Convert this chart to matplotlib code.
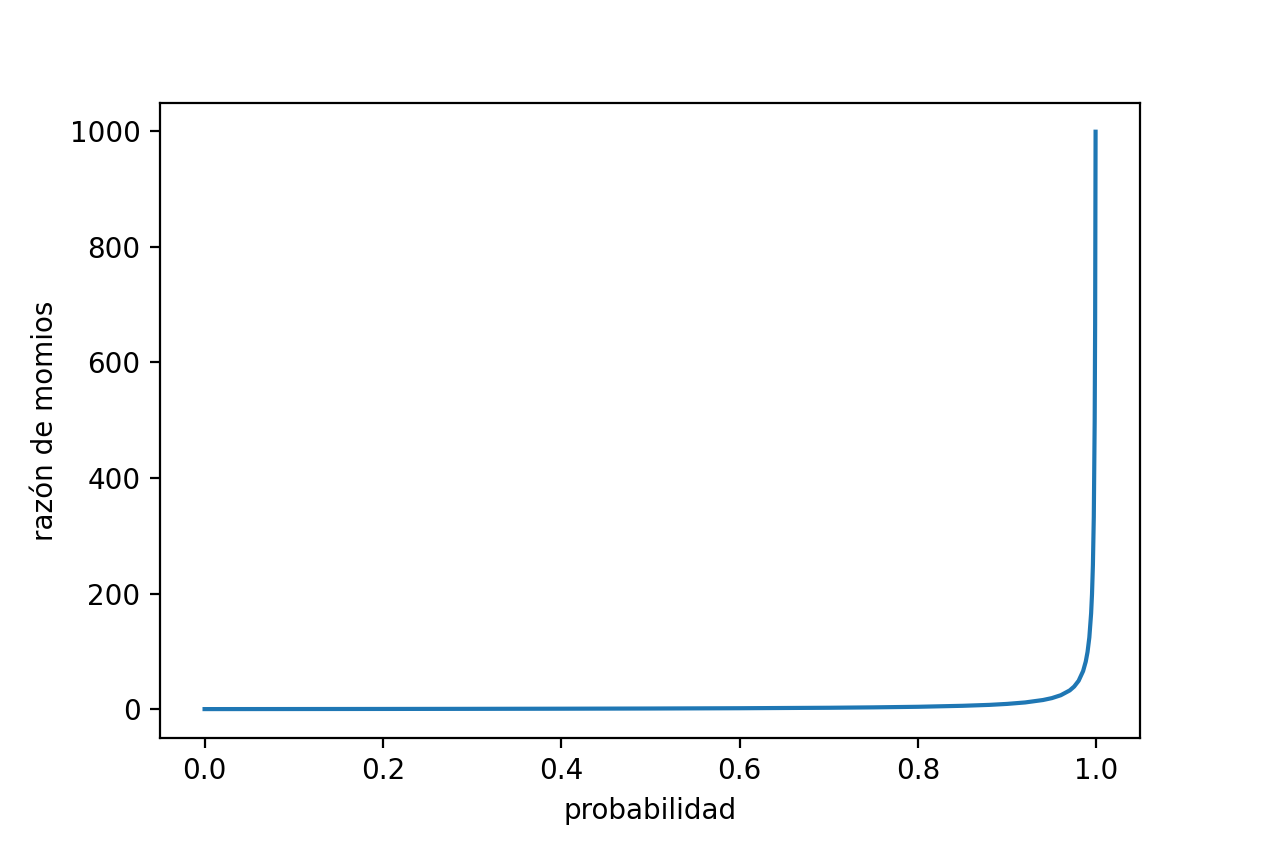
import matplotlib
matplotlib.use('Agg')
import matplotlib.pyplot as plt

# valores
probabilidad = [0.0, 0.1, 0.2, 0.3, 0.4, 0.5, 0.6, 0.7, 0.75, 0.8, 0.85, 0.88,
                0.9, 0.92, 0.94, 0.95, 0.96, 0.97, 0.975, 0.98, 0.985, 0.988,
                0.99, 0.992, 0.994, 0.995, 0.996, 0.997, 0.998, 0.9985, 0.999]
razon = [0.0, 0.11, 0.25, 0.43, 0.67, 1.0, 1.5, 2.3, 3.0, 4.0, 5.7, 7.3,
         9.0, 11.5, 15.7, 19.0, 24.0, 32.3, 39.0, 49.0, 65.7, 82.3,
         99.0, 124.0, 165.7, 199.0, 249.0, 332.3, 499.0, 665.7, 999.0]

plt.figure(figsize=(6.32, 4.215), dpi=200)
plt.plot(probabilidad, razon, color='#1f77b4', linewidth=1.5)
plt.xlabel('probabilidad')
plt.ylabel('razón de momios')
plt.subplots_adjust(left=0.1266, right=0.902, top=0.878, bottom=0.1246)
plt.savefig('out.png', dpi=200)
